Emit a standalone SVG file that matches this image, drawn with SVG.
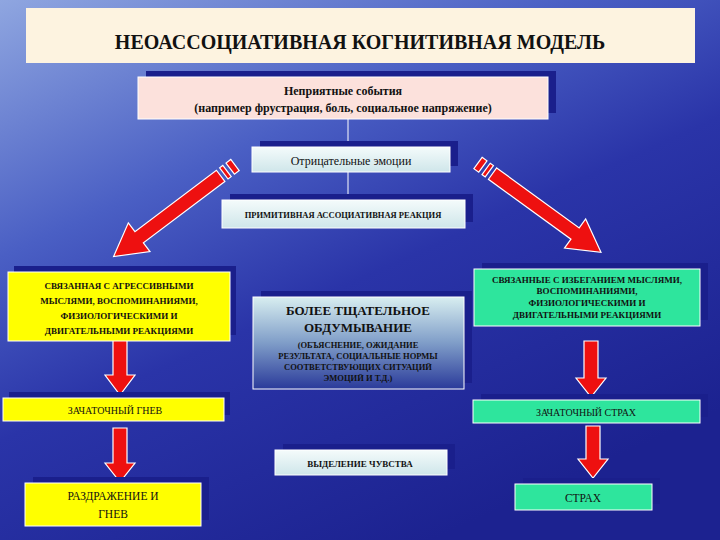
<svg xmlns="http://www.w3.org/2000/svg" width="720" height="540" viewBox="0 0 720 540" font-family="'Liberation Serif', 'DejaVu Serif', serif">
<defs>
<linearGradient id="bg" x1="0" y1="0" x2="0.6" y2="1">
<stop offset="0" stop-color="#8fa6e0"/><stop offset="0.35" stop-color="#4a5fc4"/><stop offset="0.6" stop-color="#2a34a8"/><stop offset="1" stop-color="#1c2290"/>
</linearGradient>
<linearGradient id="cg" x1="0" y1="0" x2="0" y2="1">
<stop offset="0" stop-color="#d8eef0"/><stop offset="0.5" stop-color="#7f9dc8"/><stop offset="1" stop-color="#2a3a9a"/>
</linearGradient>
<linearGradient id="lg" x1="0" y1="0" x2="0" y2="1">
<stop offset="0" stop-color="#f4fbfb"/><stop offset="1" stop-color="#cfe6ea"/>
</linearGradient>
<style>
text{font-family:'Liberation Serif','DejaVu Serif',serif}
.t{font-weight:bold;fill:#111;text-anchor:middle}
.n{font-weight:normal}
.sh{fill:#1a1f8c}
.bx{stroke:#fff;stroke-width:1}
.ar{fill:#ee1010;stroke:#fff;stroke-width:1.2}
</style>
</defs>
<rect width="720" height="540" fill="url(#bg)"/>
<g id="title"><rect x="26" y="8" width="669" height="55" fill="#fdf3e0"/>
<text class="t" x="360" y="49" font-size="20">НЕОАССОЦИАТИВНАЯ  КОГНИТИВНАЯ  МОДЕЛЬ</text></g>
<g id="connectors">
<line x1="348" y1="119" x2="348" y2="147" stroke="#fff"/>
<line x1="348" y1="172" x2="348" y2="197" stroke="#fff"/>
<path d="M345,195 L351,195 L348,201 Z" fill="#fff"/>
<g transform="translate(235,165) rotate(143)">
<path class="ar" d="M0,-7 L6,-7 L6,7 L0,7 Z M10,-7 L14,-7 L14,7 L10,7 Z M18,-7 L120,-7 L120,-18 L152,0 L120,18 L120,7 L18,7 Z"/></g>
<g transform="translate(478,163) rotate(36)">
<path class="ar" d="M0,-7 L6,-7 L6,7 L0,7 Z M10,-7 L14,-7 L14,7 L10,7 Z M18,-7 L120,-7 L120,-18 L152,0 L120,18 L120,7 L18,7 Z"/></g>
<path class="ar" d="M113,337 L127,337 L127,375 L135,375 L120,395 L105,375 L113,375 Z"/>
<path class="ar" d="M113,428 L127,428 L127,463 L135,463 L120,482 L105,463 L113,463 Z"/>
<path class="ar" d="M584,341 L598,341 L598,378 L606,378 L591,397 L576,378 L584,378 Z"/>
<path class="ar" d="M586,426 L600,426 L600,459 L608,459 L593,478 L578,459 L586,459 Z"/>
</g>
<g id="n1"><rect class="sh" x="146" y="71" width="410" height="42"/><rect class="bx" x="138" y="77" width="410" height="42" fill="#fce1dc"/>
<text class="t" x="343" y="95" font-size="12">Неприятные события</text>
<text class="t" x="343" y="112" font-size="12">(например фрустрация, боль, социальное напряжение)</text></g>
<g id="n2"><rect class="sh" x="260" y="141" width="198" height="25"/><rect class="bx" x="252" y="147" width="198" height="25" fill="url(#lg)"/>
<text class="t n" x="351" y="165" font-size="12">Отрицательные эмоции</text></g>
<g id="n3"><rect class="sh" x="230" y="194" width="243" height="28"/><rect class="bx" x="222" y="200" width="243" height="28" fill="url(#lg)"/>
<text class="t" x="343" y="218" font-size="8.5">ПРИМИТИВНАЯ АССОЦИАТИВНАЯ РЕАКЦИЯ</text></g>
<g id="n4"><rect class="sh" x="14" y="266" width="222" height="69"/><rect class="bx" x="8" y="272" width="222" height="69" fill="#ffff00"/>
<text class="t" font-size="9"><tspan x="119" y="289">СВЯЗАННАЯ С АГРЕССИВНЫМИ</tspan><tspan x="119" y="304">МЫСЛЯМИ, ВОСПОМИНАНИЯМИ,</tspan><tspan x="119" y="319">ФИЗИОЛОГИЧЕСКИМИ И</tspan><tspan x="119" y="334">ДВИГАТЕЛЬНЫМИ РЕАКЦИЯМИ</tspan></text></g>
<g id="n5"><rect class="sh" x="261" y="291" width="211" height="92"/><rect class="bx" x="253" y="297" width="211" height="92" fill="url(#cg)"/>
<text class="t" font-size="13"><tspan x="358" y="315">БОЛЕЕ ТЩАТЕЛЬНОЕ</tspan><tspan x="358" y="332">ОБДУМЫВАНИЕ</tspan></text>
<text class="t" font-size="8.5"><tspan x="358" y="348">(ОБЪЯСНЕНИЕ, ОЖИДАНИЕ</tspan><tspan x="358" y="359">РЕЗУЛЬТАТА, СОЦИАЛЬНЫЕ НОРМЫ</tspan><tspan x="358" y="370">СООТВЕТСТВУЮЩИХ СИТУАЦИЙ</tspan><tspan x="358" y="381">ЭМОЦИЙ И Т.Д.)</tspan></text></g>
<g id="n6"><rect class="sh" x="482" y="263" width="226" height="57"/><rect class="bx" x="474" y="269" width="226" height="57" fill="#2ee59d"/>
<text class="t" font-size="9"><tspan x="587" y="283">СВЯЗАННЫЕ С ИЗБЕГАНИЕМ МЫСЛЯМИ,</tspan><tspan x="587" y="294">ВОСПОМИНАНИЯМИ,</tspan><tspan x="587" y="306">ФИЗИОЛОГИЧЕСКИМИ И</tspan><tspan x="587" y="318">ДВИГАТЕЛЬНЫМИ РЕАКЦИЯМИ</tspan></text></g>
<g id="n7"><rect class="sh" x="9" y="392" width="221" height="23"/><rect class="bx" x="3" y="398" width="221" height="23" fill="#ffff00"/>
<text class="t n" x="115" y="414" font-size="10">ЗАЧАТОЧНЫЙ ГНЕВ</text></g>
<g id="n8"><rect class="sh" x="481" y="394" width="227" height="23"/><rect class="bx" x="473" y="400" width="227" height="23" fill="#2ee59d"/>
<text class="t n" x="586" y="416" font-size="10">ЗАЧАТОЧНЫЙ СТРАХ</text></g>
<g id="n9"><rect class="sh" x="283" y="444" width="172" height="25"/><rect class="bx" x="275" y="450" width="172" height="25" fill="url(#lg)"/>
<text class="t" x="360" y="467" font-size="9">ВЫДЕЛЕНИЕ ЧУВСТВА</text></g>
<g id="n10"><rect class="sh" x="33" y="477" width="176" height="43"/><rect class="bx" x="25" y="483" width="176" height="43" fill="#ffff00"/>
<text class="t n" font-size="11.5"><tspan x="113" y="500">РАЗДРАЖЕНИЕ И</tspan><tspan x="113" y="518">ГНЕВ</tspan></text></g>
<g id="n11"><rect class="sh" x="523" y="478" width="137" height="26"/><rect class="bx" x="515" y="484" width="137" height="26" fill="#2ee59d"/>
<text class="t n" x="583" y="502" font-size="11.5">СТРАХ</text></g>
</svg>
